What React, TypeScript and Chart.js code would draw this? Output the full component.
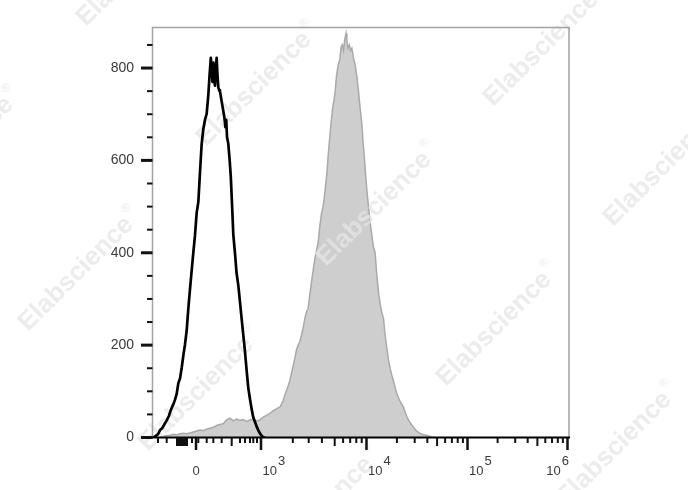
import React, { useEffect, useRef } from 'react';
import { Chart, registerables } from 'chart.js';

Chart.register(...registerables);

// ---- Data (x in display channels 0..1000 of the biexponential axis, y = cell count) ----
const ISO_CH = [0, 6, 12, 17, 22, 27, 33, 38, 43, 48, 53, 57, 61, 65, 69, 73, 77, 81, 85, 89, 93, 97, 101, 105, 109, 113, 117, 121, 125, 129, 133, 136, 139, 141, 143, 145, 147, 149, 151, 153, 155, 157, 159, 161, 165, 169, 172, 174, 176, 178, 181, 184, 187, 190, 193, 197, 201, 205, 209, 213, 217, 221, 225, 229, 233, 237, 241, 245, 249, 253, 257, 261, 265, 270];
const ISO_COUNT = [0, 3, 7, 16, 20, 28, 37, 46, 60, 70, 82, 95, 118, 128, 151, 178, 202, 232, 280, 322, 362, 401, 438, 487, 510, 575, 636, 668, 688, 701, 742, 785, 822, 800, 770, 812, 775, 762, 800, 822, 785, 758, 752, 749, 728, 707, 690, 672, 688, 650, 636, 604, 565, 505, 440, 400, 355, 330, 294, 258, 222, 187, 146, 108, 84, 62, 44, 34, 24, 16, 9, 4, 0, 0];

const POS_CH = [17, 25, 33, 41, 49, 57, 65, 73, 81, 89, 97, 105, 113, 121, 129, 137, 145, 153, 161, 169, 177, 185, 193, 201, 209, 217, 225, 233, 241, 249, 257, 265, 273, 281, 289, 297, 305, 309, 313, 317, 321, 325, 329, 333, 337, 341, 345, 349, 353, 357, 361, 365, 369, 373, 377, 381, 385, 389, 393, 397, 401, 405, 409, 413, 418, 421, 425, 428, 432, 435, 438, 441, 445, 449, 452, 455, 458, 461, 464, 466, 469, 472, 475, 478, 482, 486, 490, 494, 498, 502, 505, 508, 511, 514, 518, 522, 526, 530, 534, 538, 542, 546, 550, 554, 558, 562, 566, 570, 574, 578, 582, 586, 590, 594, 598, 602, 606, 610, 614, 618, 622, 626, 630, 634, 638, 642, 650, 658, 664, 671, 680];
const POS_COUNT = [0, 3, 4, 5, 7, 6, 8, 9, 8, 10, 12, 14, 16, 15, 18, 20, 22, 26, 28, 30, 38, 42, 36, 40, 37, 39, 35, 38, 40, 36, 38, 44, 48, 52, 58, 62, 66, 72, 80, 92, 102, 112, 123, 140, 155, 172, 190, 200, 208, 222, 237, 258, 272, 280, 310, 337, 362, 387, 405, 422, 458, 485, 500, 530, 572, 610, 651, 680, 715, 730, 750, 782, 807, 818, 845, 850, 838, 862, 875, 858, 843, 850, 838, 843, 822, 807, 782, 750, 712, 679, 640, 608, 570, 536, 500, 465, 438, 412, 400, 352, 315, 290, 270, 258, 222, 194, 168, 150, 135, 123, 108, 95, 86, 78, 72, 66, 55, 46, 38, 32, 27, 23, 18, 14, 11, 9, 6, 5, 3, 0, 0];

// ---- Axis ticks ----
const X_MIN = 0;
const X_MAX = 1000;
const Y_MIN = 0;
const Y_MAX = 888;
const Y_MAJOR = [0, 200, 400, 600, 800];
const Y_MINOR = [50, 100, 150, 250, 300, 350, 450, 500, 550, 650, 700, 750, 850];
const X_MAJOR_CH = [103.4, 259.6, 513.2, 756, 996.4];
const X_MAJOR_BASE = ['0', '10', '10', '10', '10'];
const X_MAJOR_EXP = ['', '3', '4', '5', '6'];
const X_MEDIUM_CH = [57.7, 62.5, 67.3, 72.1, 76.9, 81.7, 189.2, 436.8, 682.9, 924.0];
const X_MINOR_CH = [12.0, 32.9, 93.8, 108.9, 129.1, 145.0, 165.1, 209.1, 221.2, 233.2, 241.1, 250.0,
  336.1, 374.3, 406.0, 457.0, 474.0, 488.7, 501.7,
  586.3, 629.1, 659.4, 702.2, 718.5, 732.5, 745.0,
  828.4, 870.7, 900.7, 943.0, 959.1, 973.1, 985.3];

const WATERMARK_TEXT = 'Elabscience';
const WATERMARKS = [
  [138, -35], [258, 85], [378, 205], [498, 325], [618, 445],
  [545, 45], [665, 165],
  [-40, 150], [80, 270], [200, 390], [320, 510],
];

const FONT = '"Liberation Sans", Arial, sans-serif';
const TEXT_COLOR = '#3a3a3a';

function drawWatermarks(ctx: CanvasRenderingContext2D) {
  ctx.save();
  ctx.fillStyle = 'rgba(230,230,230,0.75)';
  for (const [cx, cy] of WATERMARKS) {
    ctx.save();
    ctx.translate(cx, cy);
    ctx.rotate(-Math.PI / 4);
    ctx.font = `bold 26px ${FONT}`;
    const w = ctx.measureText(WATERMARK_TEXT).width;
    ctx.font = `12px ${FONT}`;
    const wr = ctx.measureText('®').width;
    const start = -(w + wr + 2) / 2;
    ctx.font = `bold 26px ${FONT}`;
    ctx.textBaseline = 'middle';
    ctx.textAlign = 'left';
    ctx.fillText(WATERMARK_TEXT, start, 0);
    ctx.font = `12px ${FONT}`;
    ctx.fillText('®', start + w + 2, -11);
    ctx.restore();
  }
  ctx.restore();
}

const flowAxesPlugin = {
  id: 'flowAxes',
  afterDatasetDraw(chart: any, args: any) {
    if (args.index === 1) drawWatermarks(chart.ctx);
  },
  afterDraw(chart: any) {
    const { ctx, chartArea: ca, scales } = chart;
    const x = scales.x;
    const y = scales.y;
    ctx.save();
    // frame (left, top, right)
    ctx.strokeStyle = '#a3a3a3';
    ctx.lineWidth = 1.5;
    ctx.beginPath();
    ctx.moveTo(ca.left - 0.5, ca.bottom);
    ctx.lineTo(ca.left - 0.5, ca.top);
    ctx.lineTo(ca.right, ca.top);
    ctx.lineTo(ca.right, ca.bottom);
    ctx.stroke();
    // bottom axis
    ctx.strokeStyle = '#000';
    ctx.lineWidth = 2;
    ctx.beginPath();
    ctx.moveTo(ca.left - 1, ca.bottom);
    ctx.lineTo(ca.right + 1, ca.bottom);
    ctx.stroke();

    // y ticks
    ctx.strokeStyle = '#111';
    ctx.lineWidth = 3;
    for (const v of Y_MAJOR) {
      const py = y.getPixelForValue(v);
      ctx.beginPath();
      ctx.moveTo(ca.left - 12, py);
      ctx.lineTo(ca.left - 0.5, py);
      ctx.stroke();
    }
    ctx.lineWidth = 2;
    for (const v of Y_MINOR) {
      const py = y.getPixelForValue(v);
      ctx.beginPath();
      ctx.moveTo(ca.left - 6, py);
      ctx.lineTo(ca.left - 0.5, py);
      ctx.stroke();
    }

    // x ticks
    const drawX = (vals: number[], len: number, w: number) => {
      ctx.lineWidth = w;
      for (const v of vals) {
        const px = x.getPixelForValue(v);
        ctx.beginPath();
        ctx.moveTo(px, ca.bottom);
        ctx.lineTo(px, ca.bottom + len);
        ctx.stroke();
      }
    };
    drawX(X_MINOR_CH, 5.5, 2);
    drawX(X_MEDIUM_CH, 8.5, 2);
    drawX(X_MAJOR_CH, 12.5, 2.5);

    // x labels
    ctx.fillStyle = TEXT_COLOR;
    ctx.font = `13px ${FONT}`;
    ctx.textBaseline = 'alphabetic';
    const baseY = ca.bottom + 37;
    const supY = ca.bottom + 27;
    X_MAJOR_CH.forEach((v, i) => {
      const px = x.getPixelForValue(v);
      const base = X_MAJOR_BASE[i];
      const exp = X_MAJOR_EXP[i];
      if (!exp) {
        ctx.textAlign = 'center';
        ctx.fillText(base, px, baseY);
        return;
      }
      ctx.textAlign = 'left';
      const wb = ctx.measureText(base).width;
      const we = ctx.measureText(exp).width;
      let x0 = px + 1.5;
      if (i === X_MAJOR_CH.length - 1) x0 = px + 1.5 - (wb + 1 + we);
      ctx.fillText(base, x0, baseY);
      ctx.fillText(exp, x0 + wb + 1, supY);
    });
    ctx.restore();
  },
};

export default function App() {
  const canvasRef = useRef<HTMLCanvasElement | null>(null);

  useEffect(() => {
    const canvas = canvasRef.current;
    if (!canvas) return;
    const isoData = ISO_CH.map((c, i) => ({ x: c, y: ISO_COUNT[i] }));
    const posData = POS_CH.map((c, i) => ({ x: c, y: POS_COUNT[i] }));

    const chart = new Chart(canvas, {
      type: 'line',
      data: {
        datasets: [
          {
            label: 'Isotype',
            data: isoData,
            borderColor: '#000000',
            borderWidth: 2.7,
            pointRadius: 0,
            fill: false,
            tension: 0,
            borderJoinStyle: 'round',
          },
          {
            label: 'Stained',
            data: posData,
            borderColor: '#a9a9a9',
            backgroundColor: '#cecece',
            borderWidth: 1.5,
            pointRadius: 0,
            fill: 'origin',
            tension: 0,
          },
        ],
      },
      options: {
        responsive: false,
        animation: false,
        devicePixelRatio: 1,
        layout: { padding: { left: 0, top: 22, right: 119, bottom: 0 } },
        plugins: {
          legend: { display: false },
          title: { display: false },
          tooltip: { enabled: false },
        },
        scales: {
          x: {
            type: 'linear',
            min: X_MIN,
            max: X_MAX,
            grid: { display: false, drawTicks: false },
            border: { display: false },
            ticks: { display: false },
            afterFit: (scale: any) => {
              scale.height = 52.5;
            },
          },
          y: {
            type: 'linear',
            min: Y_MIN,
            max: Y_MAX,
            z: 1,
            grid: { display: false, drawTicks: false },
            border: { display: false },
            afterBuildTicks: (scale: any) => {
              scale.ticks = Y_MAJOR.map((v) => ({ value: v }));
            },
            ticks: {
              padding: 19,
              color: TEXT_COLOR,
              font: { family: FONT, size: 14 },
              callback: (v: any) => String(v),
            },
            afterFit: (scale: any) => {
              scale.width = 153;
            },
          },
        },
      },
      plugins: [flowAxesPlugin],
    });
    return () => chart.destroy();
  }, []);

  return (
    <div style={{ position: 'absolute', left: 0, top: 0, width: 688, height: 490, background: '#fff' }}>
      <canvas ref={canvasRef} width={688} height={490} style={{ display: 'block' }} />
    </div>
  );
}
